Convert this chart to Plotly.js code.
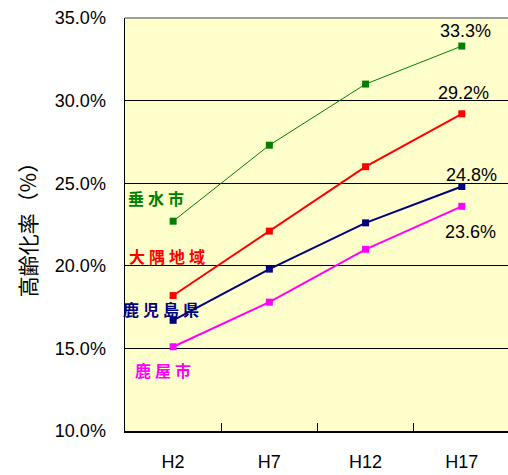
<!DOCTYPE html>
<html><head><meta charset="utf-8">
<script src="https://cdn.plot.ly/plotly-3.0.1.min.js"></script>
<style>body{margin:0;background:#fff}#c{width:508px;height:475px}</style>
</head><body><div id="c"></div>
<script>
const years = ['H2','H7','H12','H17'];
const tarumizu = [22.7, 27.3, 31.0, 33.3];
const osumi = [18.2, 22.1, 26.0, 29.2];
const kagoshima = [16.7, 19.8, 22.6, 24.8];
const kanoya = [15.1, 17.8, 21.0, 23.6];
const seriesNames = ['垂水市','大隅地域','鹿児島県','鹿屋市'];
const yTicks = [10,15,20,25,30,35];

const idx = years.map((_,i)=>i);
const numFont = 'Liberation Sans, Arial, sans-serif';
const cjkFont = 'Noto Sans CJK JP, sans-serif';
const sp = '\u2005';

function tr(vals, color, width){
  return {x: idx, y: vals, type:'scatter', mode:'lines+markers',
    line:{color:color, width:width}, marker:{symbol:'square', size:7, color:color},
    showlegend:false, hoverinfo:'skip'};
}
const data = [
  tr(tarumizu,'#008000',1),
  tr(osumi,'#FF0000',2),
  tr(kagoshima,'#000080',2),
  tr(kanoya,'#FF00FF',2),
  {x:[0], y:[10], xaxis:'x2', type:'scatter', mode:'markers', marker:{opacity:0}, showlegend:false, hoverinfo:'skip'}
];

function valAnn(vals, xs, ys){
  const v = vals[3];
  return {x:3, y:v, xref:'x', yref:'y', text:v.toFixed(1)+'%', showarrow:false,
    xshift:xs, yshift:ys, font:{family:numFont, size:18, color:'#000'}};
}
function nameAnn(name, vals, color, xs, ys){
  return {x:0, y:vals[0], xref:'x', yref:'y', text:'<b>'+name.split('').join(sp)+'</b>', showarrow:false,
    xshift:xs, yshift:ys, font:{family:cjkFont, size:16, color:color}};
}
const annotations = [
  valAnn(tarumizu, 4, 15),
  valAnn(osumi, 2, 21),
  valAnn(kagoshima, 10, 12),
  valAnn(kanoya, 9, -26),
  nameAnn(seriesNames[0], tarumizu, '#008000', -17, 23),
  nameAnn(seriesNames[1], osumi, '#FF0000', -6, 40),
  nameAnn(seriesNames[2], kagoshima, '#000080', -12, 11),
  nameAnn(seriesNames[3], kanoya, '#FF00FF', -10, -23)
];

const layout = {
  width:508, height:475,
  margin:{l:125, r:0, t:18, b:44},
  paper_bgcolor:'#ffffff', plot_bgcolor:'#FFFFCC',
  xaxis:{range:[-0.5,3.48], tickvals:idx, ticktext:years, ticks:'', showgrid:false,
    showline:true, linecolor:'#000', linewidth:1.5, zeroline:false,
    tickfont:{family:numFont, size:18, color:'#000'}, ticklabelstandoff:14},
  xaxis2:{overlaying:'x', matches:'x', range:[-0.5,3.48], tickvals:[0.5,1.5,2.5], ticks:'inside', ticklen:8,
    tickcolor:'#000', tickwidth:1, showticklabels:false, showgrid:false, showline:false, zeroline:false},
  yaxis:{range:[10,35], tickvals:yTicks, ticktext:yTicks.map(v=>v.toFixed(1)+'%'),
    showgrid:true, gridcolor:'#000', gridwidth:1, showline:true, linecolor:'#000', linewidth:1.5,
    zeroline:false, ticks:'', tickfont:{family:numFont, size:18, color:'#000'}, ticklabelstandoff:14,
    title:{text:'高齢化率（%）', font:{family:cjkFont, size:21, color:'#000'}, standoff:12}},
  shapes:[{type:'line', xref:'paper', yref:'paper', x0:0, x1:1, y0:1, y1:1, line:{color:'#808080', width:1.5}}],
  annotations: annotations
};
Plotly.newPlot('c', data, layout, {staticPlot:true});
</script></body></html>
